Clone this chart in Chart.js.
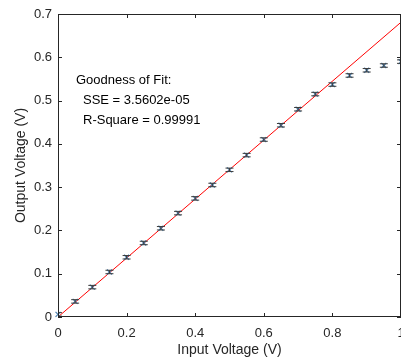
<!DOCTYPE html>
<html lang="en">
<head>
<meta charset="UTF-8">
<title>Goodness of Fit</title>
<script src="https://cdn.jsdelivr.net/npm/chart.js@4.4.0/dist/chart.umd.min.js"></script>
<style>
  html, body { margin: 0; padding: 0; background: #fff; }
  #wrap { width: 401px; height: 358px; }
</style>
</head>
<body>
<div id="wrap"><canvas id="chart" width="401" height="358"></canvas></div>
<script>
// measured points
const inputV = [0, 0.05, 0.1, 0.15, 0.2, 0.25, 0.3, 0.35, 0.4, 0.45, 0.5,
                0.55, 0.6, 0.65, 0.7, 0.75, 0.8, 0.85, 0.9, 0.95, 1.0];
const outputV = [0.006, 0.036, 0.069, 0.104, 0.138, 0.171, 0.205, 0.240, 0.274, 0.305, 0.340,
                 0.374, 0.410, 0.443, 0.480, 0.515, 0.537, 0.558, 0.570, 0.581, 0.590];
const errV = [0.004, 0.004, 0.004, 0.004, 0.004, 0.004, 0.004, 0.004, 0.004, 0.004, 0.004,
              0.004, 0.004, 0.004, 0.004, 0.004, 0.004, 0.004, 0.004, 0.004, 0.004];
// linear fit line
const fitX = [0, 1];
const fitY = [0, 0.681];
const xTicks = [0, 0.2, 0.4, 0.6, 0.8, 1];
const yTicks = [0, 0.1, 0.2, 0.3, 0.4, 0.5, 0.6, 0.7];
const fitText = ["Goodness of Fit:", "SSE = 3.5602e-05", "R-Square = 0.99991"];

const FONT = "'Liberation Sans', Arial, sans-serif";
const AXIS = "#262626";

const errorBars = {
  id: "errorBars",
  afterDatasetsDraw(chart) {
    const { ctx, scales: { x, y } } = chart;
    ctx.save();
    ctx.beginPath();
    ctx.rect(chart.chartArea.left, chart.chartArea.top,
             chart.chartArea.right - chart.chartArea.left + 1,
             chart.chartArea.bottom - chart.chartArea.top);
    ctx.clip();
    ctx.strokeStyle = "#3c3c3c";
    ctx.lineWidth = 1;
    for (let i = 0; i < inputV.length; i++) {
      const px = x.getPixelForValue(inputV[i]);
      const top = y.getPixelForValue(outputV[i] + errV[i]);
      const bot = y.getPixelForValue(outputV[i] - errV[i]);
      ctx.beginPath();
      ctx.moveTo(px, top); ctx.lineTo(px, bot);
      ctx.moveTo(px - 4, top); ctx.lineTo(px + 4, top);
      ctx.moveTo(px - 4, bot); ctx.lineTo(px + 4, bot);
      ctx.stroke();
    }
    ctx.restore();
  },
  afterDraw(chart) {
    const { ctx, chartArea: a, scales: { x, y } } = chart;
    ctx.save();
    ctx.strokeStyle = AXIS;
    ctx.lineWidth = 1;
    ctx.strokeRect(a.left + 0.5, a.top + 0.5, a.right - a.left - 1, a.bottom - a.top - 1);
    ctx.beginPath();
    xTicks.forEach(v => {
      const px = Math.round(x.getPixelForValue(v)) + 0.5;
      ctx.moveTo(px, a.bottom); ctx.lineTo(px, a.bottom - 4);
      ctx.moveTo(px, a.top); ctx.lineTo(px, a.top + 4);
    });
    yTicks.forEach(v => {
      const py = Math.round(y.getPixelForValue(v)) + 0.5;
      ctx.moveTo(a.left, py); ctx.lineTo(a.left + 4, py);
      ctx.moveTo(a.right, py); ctx.lineTo(a.right - 4, py);
    });
    ctx.stroke();
    ctx.fillStyle = "#000";
    ctx.font = "13px " + FONT;
    ctx.textBaseline = "middle";
    ctx.textAlign = "left";
    ctx.fillText(fitText[0], 76, 80);
    ctx.fillText(fitText[1], 83, 100);
    ctx.fillText(fitText[2], 83, 120);
    ctx.restore();
  }
};

new Chart(document.getElementById("chart"), {
  type: "scatter",
  data: {
    datasets: [
      {
        label: "fit",
        type: "line",
        data: fitX.map((v, i) => ({ x: v, y: fitY[i] })),
        borderColor: "#ff0000",
        borderWidth: 1,
        pointRadius: 0,
        fill: false,
        order: 1
      },
      {
        label: "data",
        data: inputV.map((v, i) => ({ x: v, y: outputV[i] })),
        pointStyle: "crossRot",
        pointRadius: 3.5,
        borderColor: "#4a80b0",
        borderWidth: 1.2,
        backgroundColor: "#4a80b0",
        order: 0
      }
    ]
  },
  plugins: [errorBars],
  options: {
    responsive: false,
    animation: false,
    clip: false,
    layout: { autoPadding: false, padding: { top: 14, right: 0, left: 0, bottom: 0 } },
    plugins: { legend: { display: false }, tooltip: { enabled: false } },
    scales: {
      x: {
        type: "linear",
        min: 0, max: 1,
        afterBuildTicks: s => { s.ticks = xTicks.map(v => ({ value: v })); },
        afterFit: s => { s.height = 41; s.paddingLeft = 0; s.paddingRight = 0; },
        grid: { display: false, drawTicks: false },
        border: { display: false },
        ticks: { font: { family: FONT, size: 13 }, color: AXIS, padding: 9, maxRotation: 0,
                 callback: v => String(v) },
        title: { display: true, text: "Input Voltage (V)", font: { family: FONT, size: 14, lineHeight: 1.1 },
                 color: AXIS, padding: { top: 0, bottom: 0 } }
      },
      y: {
        type: "linear",
        min: 0, max: 0.7,
        afterBuildTicks: s => { s.ticks = yTicks.map(v => ({ value: v })); },
        afterFit: s => { s.width = 58; s.paddingTop = 0; s.paddingBottom = 0; },
        grid: { display: false, drawTicks: false },
        border: { display: false },
        ticks: { font: { family: FONT, size: 13 }, color: AXIS, padding: 6,
                 callback: v => String(v) },
        title: { display: true, text: "Output Voltage (V)", font: { family: FONT, size: 14 },
                 color: AXIS, padding: { top: 13, bottom: 0 } }
      }
    }
  }
});
</script>
</body>
</html>
